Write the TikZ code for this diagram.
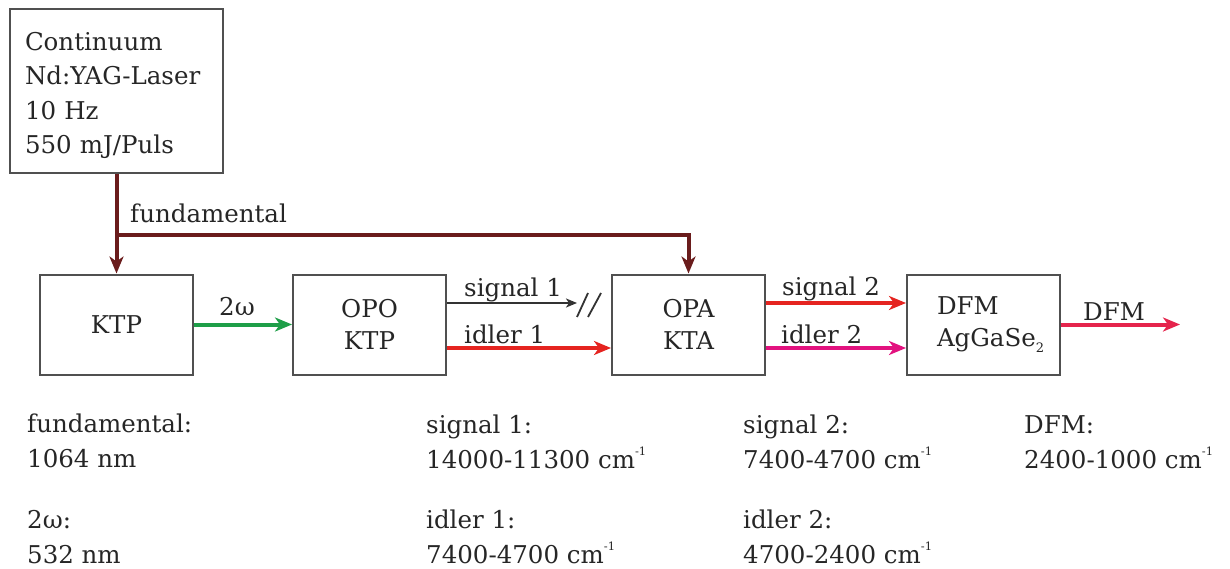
\documentclass[tikz,border=0pt]{standalone}
\usepackage{fontspec}
\setmainfont{DejaVu Serif}
\usetikzlibrary{arrows.meta}
\definecolor{fundc}{HTML}{6A1C1C}
\definecolor{grnc}{HTML}{1E9E48}
\definecolor{redc}{HTML}{E52420}
\definecolor{magc}{HTML}{E2127F}
\definecolor{dfmc}{HTML}{E5244C}
\definecolor{sigc}{HTML}{333333}
\definecolor{boxc}{HTML}{505050}
\definecolor{txtc}{HTML}{262626}
\newcommand\invcm{cm\raisebox{13pt}{\fontsize{11.5}{11.5}\selectfont -1}}
\newcommand\subtwo{\raisebox{-6pt}{\fontsize{13}{13}\selectfont 2}}
\begin{document}
\begin{tikzpicture}[x=1pt,y=-1pt,
  font=\fontsize{24.5}{32}\selectfont, text=txtc,
  box/.style={draw=boxc, line width=2pt, minimum width=153pt, minimum height=100pt,
              inner sep=0pt, align=center},
  tip/.style={-{Stealth[length=17pt,width=14pt,inset=5pt]}},
  beam/.style={line width=4pt, tip},
  lbl/.style={inner sep=0pt, anchor=base west},
  info/.style={inner sep=0pt, anchor=base west, align=left, font=\fontsize{24.5}{35}\selectfont},
]
\useasboundingbox (0,0) rectangle (1230,569);

% boxes
\node[box, minimum width=213pt, minimum height=164pt, text width=183pt, align=left,
      text height=27pt, font=\fontsize{24.5}{34.5}\selectfont] (laser) at (116.5,91)
  {Continuum\\Nd:YAG-Laser\\10 Hz\\550 mJ/Puls};
\node[box] (ktp) at (116.5,324.5) {KTP};
\node[box] (opo) at (369.5,324.5) {OPO\\KTP};
\node[box] (opa) at (688.5,324.5) {OPA\\KTA};
\node[box, text width=93pt, align=left] (dfm) at (983.5,324.5) {DFM\\AgGaSe\subtwo};

% fundamental
\path (laser.south) ++(0,61) coordinate (j);
\draw[beam, fundc] (laser.south) -- (ktp.north);
\draw[beam, fundc] (j) -| (opa.north);
\node[lbl] (lfund) at (130,223) {fundamental};

% 2 omega
\draw[beam, grnc] (ktp.east) -- (opo.west);
\node[inner sep=0pt, anchor=base] (l2w) at (237,315) {2ω};

% signal 1 (blocked)
\coordinate (s1end) at ([yshift=21.5pt, xshift=-34pt]opa.west);
\draw[sigc, line width=2.2pt, -{Stealth[length=11pt,width=9pt,inset=3pt]}]
  ([yshift=21.5pt]opo.east) -- (s1end);
\draw[sigc, line width=1.8pt] (577,317) -- (588,293) (588,317) -- (601,293);
\node[lbl] (ls1) at (464,296) {signal 1};

% idler 1
\draw[beam, redc] ([yshift=-23.5pt]opo.east) -- ([yshift=-23.5pt]opa.west);
\node[lbl] (li1) at (464,343) {idler 1};

% signal 2 / idler 2
\draw[beam, redc] ([yshift=21.5pt]opa.east) -- ([yshift=21.5pt]dfm.west);
\node[lbl] (ls2) at (782,295) {signal 2};
\draw[beam, magc] ([yshift=-23.5pt]opa.east) -- ([yshift=-23.5pt]dfm.west);
\node[lbl] (li2) at (781,343) {idler 2};

% DFM output
\coordinate (out) at (1180,324.5);
\draw[beam, dfmc] (dfm.east) -- (out);
\node[lbl] (ldfm) at (1083,320) {DFM};

% info texts (base anchor = last line)
\node[info] (ifund) at (27,467) {fundamental:\\1064 nm};
\node[info] (i2w) at (27,563) {2ω:\\532 nm};
\node[info] (is1) at (426,468) {signal 1:\\14000-11300 \invcm};
\node[info] (ii1) at (426,563) {idler 1:\\7400-4700 \invcm};
\node[info] (is2) at (743,468) {signal 2:\\7400-4700 \invcm};
\node[info] (ii2) at (743,563) {idler 2:\\4700-2400 \invcm};
\node[info] (idfm) at (1024,468) {DFM:\\2400-1000 \invcm};
\end{tikzpicture}
\end{document}
